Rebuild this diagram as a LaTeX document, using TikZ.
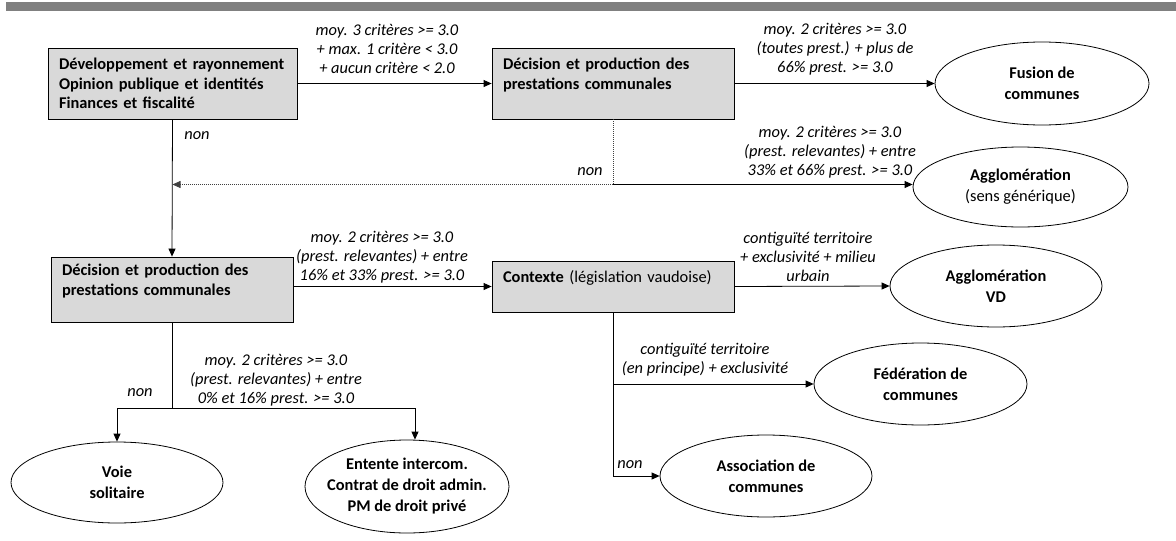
\documentclass[tikz,border=0pt]{standalone}
\usepackage{fontspec}
\setmainfont{Carlito}
\usetikzlibrary{arrows.meta,shapes.geometric,shadows}
\definecolor{boxgrey}{HTML}{D9D9D9}
\definecolor{bargrey}{HTML}{808080}

\begin{document}
\begin{tikzpicture}[x=1pt,y=-1pt,
  line width=0.8pt,
  every node/.style={font=\fontsize{16.4}{19.5}\selectfont},
  box/.style={draw, fill=boxgrey, rectangle, minimum width=242pt, text width=220pt,
    align=left, inner xsep=11pt,
    drop shadow={shadow xshift=1.2pt, shadow yshift=-1.2pt, fill=black!60, opacity=1}},
  oval/.style={draw, ellipse, inner sep=0pt},
  ovaltxt/.style={align=center, font=\bfseries\fontsize{16.4}{21}\selectfont},
  cond/.style={align=center, font=\itshape\fontsize{16.4}{19}\selectfont},
  arr/.style={-{Triangle[length=8pt,width=7pt]}},
  nope/.style={dash pattern=on 1pt off 1pt, black!75}
]
\useasboundingbox (0,0) rectangle (1176,541);
\fill[bargrey] (6,2) rectangle (1176,11);

% boxes
\node[box, minimum width=249pt, text width=227pt, minimum height=71pt] (crit3) at (172.5,83.5)
    {\textbf{Développement et rayonnement\\Opinion publique et identités\\Finances et fiscalité}};
\node[box, minimum height=71pt] (prest1) at (613,83.5)
    {\textbf{Décision et production des\\prestations communales}\\~};
\node[box, minimum height=65pt] (prest2) at (172,289.5)
    {\textbf{Décision et production des\\prestations communales}\\~};
\node[box, minimum height=51pt] (contexte) at (613,286.5)
    {\textbf{Contexte} (législation vaudoise)\\~};

% issues
\node[oval, minimum width=214pt, minimum height=83pt] (fusion) at (1042,83.5) {};
\node[ovaltxt] (fusiontxt) at (fusion) {Fusion de\\communes};
\node[oval, minimum width=215pt, minimum height=80pt] (agglo) at (1020.5,187) {};
\node[ovaltxt] (agglotxt) at (agglo) {Agglomération\\\mdseries(sens générique)};
\node[oval, minimum width=212pt, minimum height=82pt] (agglovd) at (996,286) {};
\node[ovaltxt] (agglovdtxt) at (agglovd) {Agglomération\\VD};
\node[oval, minimum width=213pt, minimum height=82pt] (federation) at (920.5,384) {};
\node[ovaltxt] (federationtxt) at (federation) {Fédération de\\communes};
\node[oval, minimum width=212pt, minimum height=82pt] (assoc) at (766,476) {};
\node[ovaltxt] (assoctxt) at (assoc) {Association de\\communes};
\node[oval, minimum width=212pt, minimum height=81pt] (voie) at (117,482.5) {};
\node[ovaltxt] (voietxt) at (voie) {Voie\\solitaire};
\node[oval, minimum width=204pt, minimum height=93pt] (entente) at (407,486.5) {};
\node[ovaltxt] (ententetxt) at (entente) {Entente intercom.\\Contrat de droit admin.\\PM de droit privé};

% connecteurs
\coordinate (nonB) at (613,184.5);
\coordinate (nonC) at (172,408);
\coordinate (ententeC) at (415,408);
\draw[arr] (crit3) -- (prest1);
\draw[arr] (prest1) -- (fusion);
\draw[nope] (prest1.south) -- (nonB);
\draw[nope,arr] (nonB) -- (nonB -| crit3.south);
\draw[arr] (nonB) -- (nonB -| agglo.west);
\draw[arr] (crit3.south) -- (prest2.north);
\draw[arr] (prest2.east |- contexte.west) -- (contexte.west);
\draw[arr] (contexte.east) -- (agglovd.west);
\draw[arr] (contexte.south |- federation.west) -- (federation.west);
\draw[arr] (contexte.south) |- (assoc.west);
\draw (prest2.south) -- (nonC);
\draw[arr] (nonC) -| (voie.north);
\draw[arr] (nonC) -- (ententeC) -- (ententeC |- entente.north);

% conditions
\node[cond] (condA) at (387,49) {moy. 3 critères >= 3.0\\+ max. 1 critère < 3.0\\+ aucun critère < 2.0};
\node[cond] (condB) at (835,49) {moy. 2 critères >= 3.0\\(toutes prest.) + plus de\\66\% prest. >= 3.0};
\node[cond] (condC) at (830,152.5) {moy. 2 critères >= 3.0\\(prest. relevantes) + entre\\33\% et 66\% prest. >= 3.0};
\node[cond] (condD) at (382,257) {moy. 2 critères >= 3.0\\(prest. relevantes) + entre\\16\% et 33\% prest. >= 3.0};
\node[cond] (condE) at (808,257) {contiguïté territoire\\+ exclusivité + milieu\\urbain};
\node[cond] (condF) at (705,359.5) {contiguïté territoire\\(en principe) + exclusivité};
\node[cond] (condG) at (276,380) {moy. 2 critères >= 3.0\\(prest. relevantes) + entre\\0\% et 16\% prest. >= 3.0};
\node[cond] (non1) at (197,136) {non};
\node[cond] (non2) at (590,172) {non};
\node[cond] (non3) at (630,465) {non};
\node[cond] (non4) at (140,393) {non};
\end{tikzpicture}
\end{document}
